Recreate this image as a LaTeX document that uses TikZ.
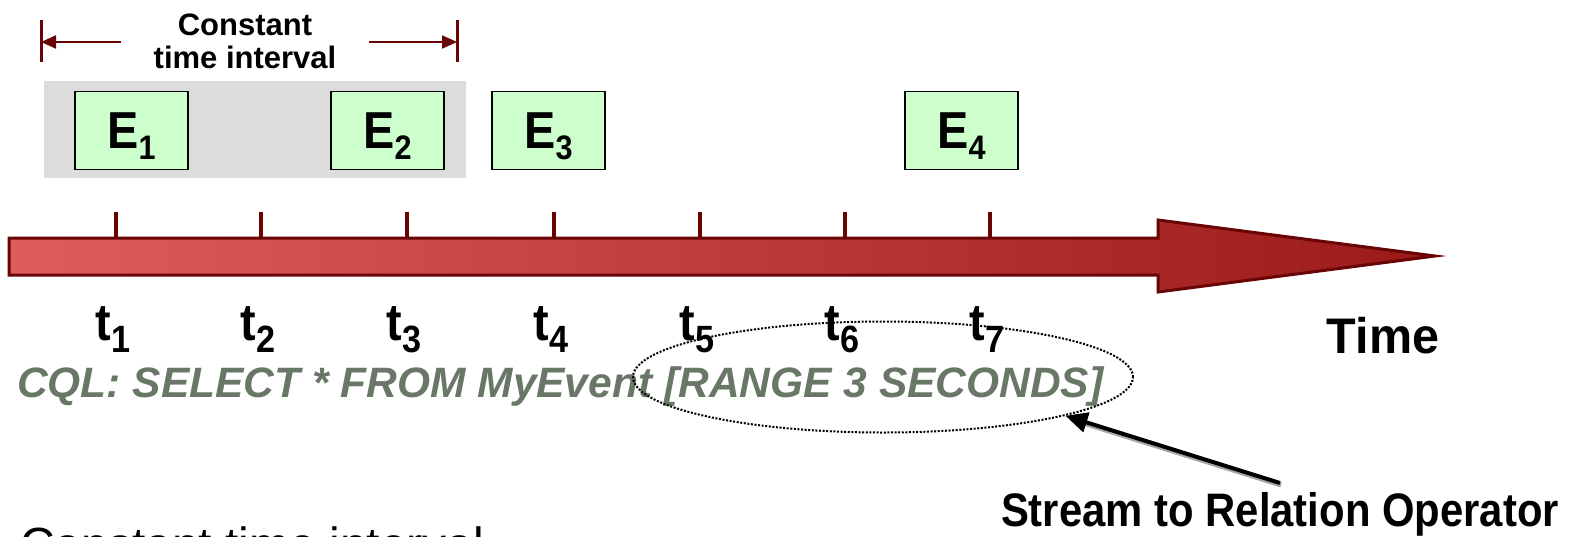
\documentclass[tikz,border=0pt]{standalone}
\usepackage{fontspec}
\setmainfont{Liberation Sans}
\usetikzlibrary{arrows.meta,shapes.geometric,calc}

\definecolor{axisred}{RGB}{105,5,5}
\definecolor{shaftlight}{RGB}{222,94,94}
\definecolor{shaftdark}{RGB}{155,25,25}
\definecolor{evgreen}{RGB}{204,255,204}
\definecolor{wingray}{RGB}{220,220,220}
\definecolor{cqlgray}{RGB}{104,119,102}

% event label E_n and tick label t_n
\newcommand\evlab[1]{\scalebox{0.9}[1]{{\fontsize{52}{52}\selectfont E}\smash{\raisebox{-11pt}{\fontsize{34}{34}\selectfont #1}}}}
\newcommand\tklab[1]{\scalebox{0.9}[1]{{\fontsize{52}{52}\selectfont t}\smash{\raisebox{-12pt}{\fontsize{38}{38}\selectfont #1}}}}

\tikzset{
  evbox/.style={draw=black, line width=1.5pt, fill=evgreen, minimum width=113pt,
    minimum height=78pt, inner sep=0pt, font=\bfseries},
  tickmark/.style={draw=axisred, line width=3.5pt},
  ticklab/.style={anchor=base, inner sep=0pt, font=\bfseries},
  spanarrow/.style={draw=axisred, line width=2pt, -{Triangle[length=15pt,width=13pt]}},
  spanbar/.style={draw=axisred, line width=3pt},
}

\begin{document}
\begin{tikzpicture}[x=1pt,y=-1pt]
\useasboundingbox (0,0) rectangle (1572,536);
\clip (0,0) rectangle (1572,536);

% window shading behind the first two events
\fill[wingray] (44,81) rectangle (466,178);

% interval span marker
\node[inner ysep=0pt, inner xsep=32pt, align=center, font=\bfseries\fontsize{31}{33}\selectfont]
  (ct) at (245,41) {Constant\\time interval};
\coordinate (ivL) at (41,42);
\coordinate (ivR) at (457,42);
\draw[spanbar] (41,20) -- (41,62);
\draw[spanbar] (457,20) -- (457,62);
\draw[spanarrow] (ct.west |- ivL) -- (ivL);
\draw[spanarrow] (ct.east |- ivR) -- (ivR);

% events
\node[evbox] (e1) at (131.5,130.5) {\evlab{1}};
\node[evbox] (e2) at (387.5,130.5) {\evlab{2}};
\node[evbox] (e3) at (548.5,130.5) {\evlab{3}};
\node[evbox] (e4) at (961.5,130.5) {\evlab{4}};

% time axis
\shade[left color=shaftlight, right color=shaftdark, draw=axisred, line width=3pt, line join=miter]
  (9,238) -- (1158,238) -- (1158,220) -- (1435,256) -- (1158,292) -- (1158,275) -- (9,275) -- cycle;

\foreach \x/\n in {116/1,261/2,407/3,554/4,700/5,845/6,990/7}{
  \draw[tickmark] (\x,212) -- (\x,237);
  \node[ticklab] (t\n) at (\x-3,340) {\tklab{\n}};
}

\node[anchor=base, inner sep=0pt, font=\bfseries\fontsize{50}{50}\selectfont] (time) at (1383,353) {\scalebox{0.97}[1]{Time}};

% query text
\node[anchor=base west, inner sep=0pt, text=cqlgray, font=\bfseries\itshape\fontsize{42.5}{43}\selectfont]
  (cql) at (17,397) {CQL: SELECT * FROM MyEvent [RANGE 3 SECONDS]};

% window operator highlight
\node[draw=black, ellipse, line width=2pt, dash pattern=on 2pt off 1.6pt,
  minimum width=500pt, minimum height=111pt, inner sep=0pt] (win) at (883,377) {};

\node[anchor=base, inner sep=0pt, font=\bfseries\fontsize{47}{47}\selectfont]
  (op) at (1280,526) {\scalebox{0.89}[1]{Stream to Relation Operator}};
\coordinate (optail) at (1280,483);
\draw[black!70, line width=5pt, opacity=0.5] ($(optail)+(1,2)$) -- ($(win.-12)+(14,6)$);
\draw[black, line width=4pt, -{Triangle[length=22pt,width=20pt]}] (optail) -- (win.-12);

\node[anchor=base west, inner sep=0pt, font=\fontsize{48}{48}\selectfont]
  (note) at (20,561) {Constant time interval};
\end{tikzpicture}
\end{document}
